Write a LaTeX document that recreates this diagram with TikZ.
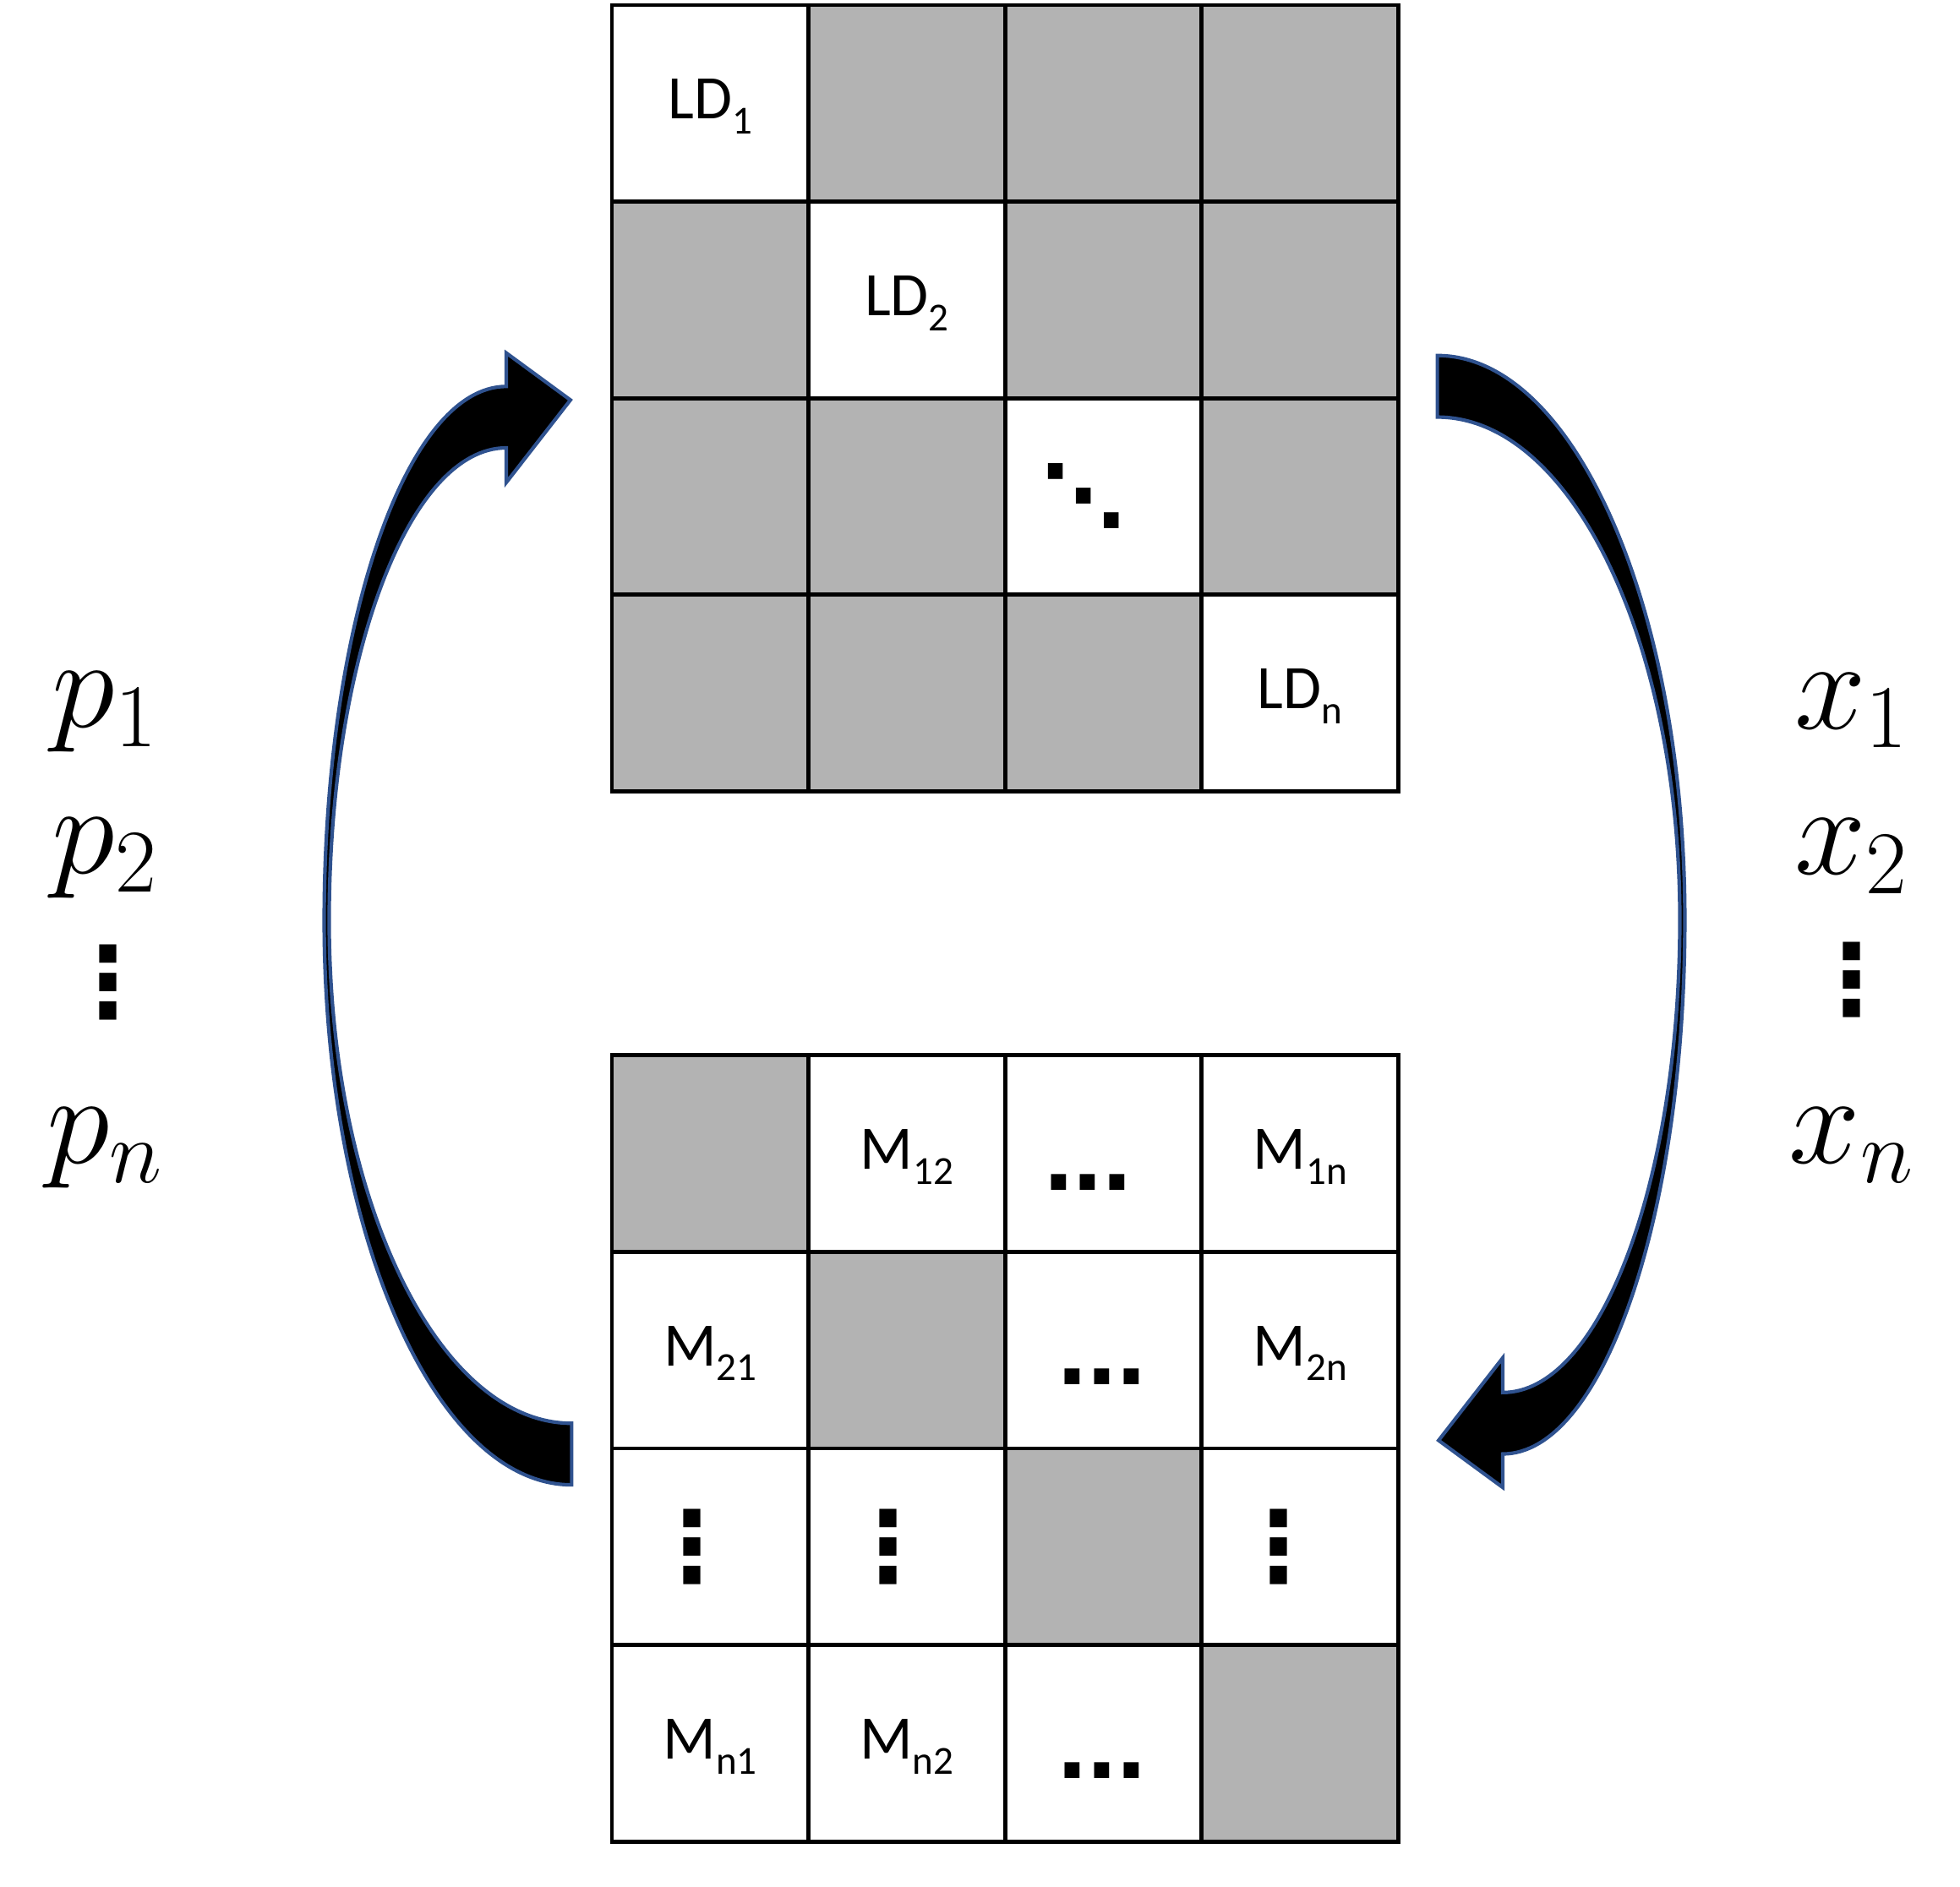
\RequirePackage{fix-cm}
\documentclass[tikz,border=0pt]{standalone}
\usepackage[no-math]{fontspec}
\setmainfont{Carlito}
\newfontfamily\dvfont{DejaVu Sans}
\newfontfamily\sqfont{Liberation Sans}
\usepackage{tikz}
\definecolor{cellgray}{RGB}{179,179,179}
\definecolor{arrowblue}{RGB}{47,82,143}
\newcommand{\subtxt}[1]{\raisebox{-0.118cm}{\fontsize{9}{11}\selectfont #1}}
\newcommand{\bentarrow}{(455,1133) .. controls (348.4,1133) and (262,954) .. (262,733)
  .. controls (262,525) and (325.1,356.5) .. (403,356.5) -- (403,384) -- (454,318.4)
  -- (403,281) -- (403,307.6) .. controls (322.9,307.6) and (258,498) .. (258,733)
  .. controls (258,981) and (346.2,1182) .. (455,1182) -- cycle}

\begin{document}
\begin{tikzpicture}[x=0.01cm, y=-0.01cm,
  cell/.style={draw, line width=0.9pt, minimum size=1.565cm, inner sep=0pt, text height=0.25cm, text depth=0pt, font=\fontsize{14}{17}\selectfont},
  wcell/.style={cell, fill=white},
  gcell/.style={cell, fill=cellgray},
  bigmath/.style={font=\fontsize{29}{34}\selectfont, inner sep=0pt, anchor=base},
  hdots/.style={font=\sqfont\fontsize{24}{30}\selectfont\bfseries, inner sep=0pt, anchor=base},
  rdots/.style={font=\dvfont\bfseries\fontsize{22}{26}\selectfont, inner sep=0pt},
  bent/.style={fill=black, draw=arrowblue, line width=0.8pt}]
\useasboundingbox (0,0) rectangle (1560,1501.5);

\node[wcell] (t11) at (565.25,82.25) {LD\subtxt{1}};
\node[gcell] (t12) at (721.75,82.25) {};
\node[gcell] (t13) at (878.25,82.25) {};
\node[gcell] (t14) at (1034.75,82.25) {};
\node[gcell] (t21) at (565.25,238.75) {};
\node[wcell] (t22) at (721.75,238.75) {LD\subtxt{2}};
\node[gcell] (t23) at (878.25,238.75) {};
\node[gcell] (t24) at (1034.75,238.75) {};
\node[gcell] (t31) at (565.25,395.25) {};
\node[gcell] (t32) at (721.75,395.25) {};
\node[wcell] (t33) at (878.25,395.25) {};
\node[gcell] (t34) at (1034.75,395.25) {};
\node[gcell] (t41) at (565.25,551.75) {};
\node[gcell] (t42) at (721.75,551.75) {};
\node[gcell] (t43) at (878.25,551.75) {};
\node[wcell] (t44) at (1034.75,551.75) {LD\subtxt{n}};
\node[rdots, font=\dvfont\bfseries\fontsize{19}{23}\selectfont] (tdd) at (862.5,395) {⋱};

\node[gcell] (b11) at (565.25,918.25) {};
\node[wcell] (b12) at (721.75,918.25) {M\subtxt{12}};
\node[wcell] (b13) at (878.25,918.25) {};
\node[wcell] (b14) at (1034.75,918.25) {M\subtxt{1n}};
\node[wcell] (b21) at (565.25,1074.75) {M\subtxt{21}};
\node[gcell] (b22) at (721.75,1074.75) {};
\node[wcell] (b23) at (878.25,1074.75) {};
\node[wcell] (b24) at (1034.75,1074.75) {M\subtxt{2n}};
\node[wcell] (b31) at (565.25,1231.25) {};
\node[wcell] (b32) at (721.75,1231.25) {};
\node[gcell] (b33) at (878.25,1231.25) {};
\node[wcell] (b34) at (1034.75,1231.25) {};
\node[wcell] (b41) at (565.25,1387.75) {M\subtxt{n1}};
\node[wcell] (b42) at (721.75,1387.75) {M\subtxt{n2}};
\node[wcell] (b43) at (878.25,1387.75) {};
\node[gcell] (b44) at (1034.75,1387.75) {};
\node[hdots] (bh1) at (866,947.6) {...};
\node[hdots] (bh2) at (877,1102) {...};
\node[hdots] (bh4) at (877,1416) {...};
\node[rdots] (bv1) at (551,1231.25) {⋮};
\node[rdots] (bv2) at (707,1231.25) {⋮};
\node[rdots] (bv4) at (1018,1231.25) {⋮};

\node[bigmath] (p1) at (84,578.7) {$p_1$};
\node[bigmath] (p2) at (84,695) {$p_2$};
\node[rdots] (pd) at (86,782) {⋮};
\node[bigmath] (pn) at (84,925.8) {$p_n$};
\node[bigmath] (x1) at (1474,580) {$x_1$};
\node[bigmath] (x2) at (1474,696) {$x_2$};
\node[rdots] (xd) at (1474,780) {⋮};
\node[bigmath] (xn) at (1474,926) {$x_n$};

\filldraw[bent] \bentarrow;
\filldraw[bent, rotate around={180:(799.5,732.5)}] \bentarrow;
\end{tikzpicture}
\end{document}
